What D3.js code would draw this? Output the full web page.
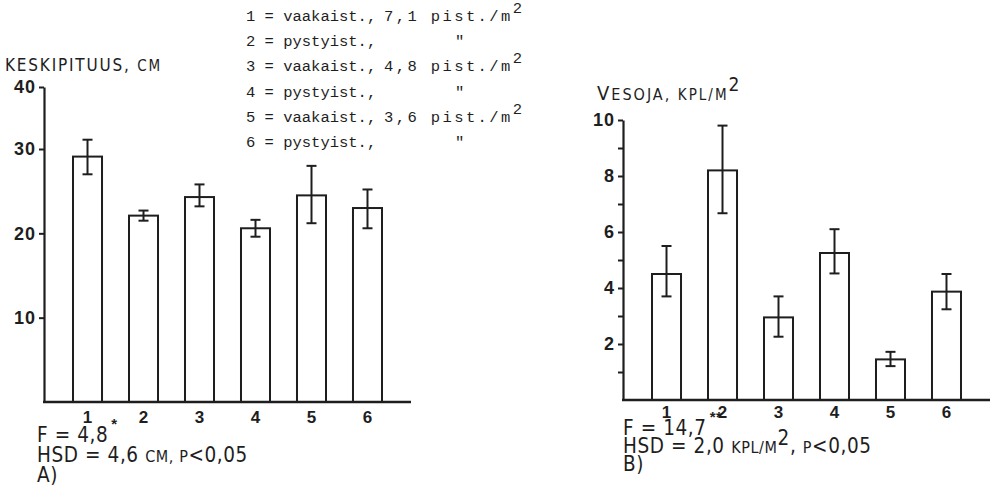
<!DOCTYPE html>
<html>
<head>
<meta charset="utf-8">
<script src="https://cdn.jsdelivr.net/npm/d3@7"></script>
<style>
body { margin: 0; background: #fff; }
svg text { fill: #1e1e1e; }
.lab { font-family: "DejaVu Sans Condensed", "DejaVu Sans", sans-serif; font-stretch: condensed; }
.num { font-family: "Liberation Sans", Arial, sans-serif; font-weight: bold; }
.mono { font-family: "Liberation Mono", "Courier New", monospace; }
</style>
</head>
<body>
<div id="chart"></div>
<script>
// Groups on the x-axis of both panels.
var groups = ['1', '2', '3', '4', '5', '6'];

// Panel A: keskipituus, cm (mean and error bar ends).
var lengthMean = [29.1, 22.1, 24.3, 20.6, 24.5, 23.0];
var lengthHigh = [31.5, 22.7, 25.8, 21.6, 28.0, 25.2];
var lengthLow  = [27.0, 21.5, 23.2, 19.6, 21.2, 20.6];
var lengthTicks = [10, 20, 30, 40];

// Panel B: vesoja, kpl/m2.
var shootMean = [4.5, 8.2, 2.95, 5.25, 1.45, 3.87];
var shootHigh = [5.5, 9.8, 3.7, 6.1, 1.72, 4.5];
var shootLow  = [3.7, 6.67, 2.26, 4.52, 1.21, 3.24];
var shootTicks = [1, 2, 3, 4, 5, 6, 7, 8, 9, 10];
var shootLabels = [2, 4, 6, 8, 10];

// Legend rows.
var legendType = ['vaakaist.,', 'pystyist.,', 'vaakaist.,', 'pystyist.,', 'vaakaist.,', 'pystyist.,'];
var legendDensity = ['7,1', '"', '4,8', '"', '3,6', '"'];

var ink = '#1e1e1e';

var svg = d3.select('#chart')
    .append('svg')
        .attr('width', 994)
        .attr('height', 488);

// Draw one bar panel with its axes and error bars.
function drawPanel(p) {
    var g = svg.append('g');

    var x = d3.scaleBand()
        .domain(groups)
        .range([p.x0, p.x1])
        .paddingInner(0.482)
        .paddingOuter(0.518);

    // y-axis
    var yAxisCall = d3.axisLeft(p.y)
        .tickValues(p.ticks)
        .tickSize(5)
        .tickSizeOuter(0)
        .tickPadding(3)
        .tickFormat(p.format);

    var ya = g.append('g')
        .attr('transform', 'translate(' + p.x0 + ', 0)')
        .call(yAxisCall);
    ya.select('.domain').attr('stroke', ink).attr('stroke-width', 2.2);
    ya.selectAll('.tick line').attr('stroke', ink).attr('stroke-width', 2);
    ya.selectAll('.tick text')
        .attr('class', 'num')
        .attr('font-size', '18px')
        .attr('letter-spacing', '1px')
        .attr('fill', ink);

    // bars
    g.selectAll('rect')
        .data(p.mean)
        .enter().append('rect')
            .attr('x', function(d, i){ return x(groups[i]); })
            .attr('y', function(d){ return p.y(d); })
            .attr('width', x.bandwidth())
            .attr('height', function(d){ return p.y(0) - p.y(d); })
            .attr('fill', '#fff')
            .attr('stroke', ink)
            .attr('stroke-width', 2);

    // baseline
    g.append('line')
        .attr('x1', p.x0 - 1).attr('x2', p.x1)
        .attr('y1', p.y(0)).attr('y2', p.y(0))
        .attr('stroke', ink)
        .attr('stroke-width', 2.4);

    // error bars
    var eb = g.selectAll('.err')
        .data(p.mean)
        .enter().append('g')
            .attr('transform', function(d, i){ return 'translate(' + (x(groups[i]) + x.bandwidth() / 2) + ', 0)'; })
            .attr('stroke', ink)
            .attr('stroke-width', 2);
    eb.append('line')
        .attr('y1', function(d, i){ return p.y(p.high[i]); })
        .attr('y2', function(d, i){ return p.y(p.low[i]); });
    eb.append('line')
        .attr('x1', -5).attr('x2', 5)
        .attr('y1', function(d, i){ return p.y(p.high[i]); })
        .attr('y2', function(d, i){ return p.y(p.high[i]); });
    eb.append('line')
        .attr('x1', -5).attr('x2', 5)
        .attr('y1', function(d, i){ return p.y(p.low[i]); })
        .attr('y2', function(d, i){ return p.y(p.low[i]); });

    // group numbers
    g.selectAll('.grp')
        .data(groups)
        .enter().append('text')
            .attr('class', 'num')
            .attr('x', function(d){ return x(d) + x.bandwidth() / 2; })
            .attr('y', p.y(0) + p.labelDy)
            .attr('text-anchor', 'middle')
            .attr('font-size', '17px')
            .text(function(d){ return d; });

    return g;
}

// Panel A
drawPanel({
    x0: 44, x1: 411,
    y: d3.scaleLinear().domain([0, 30, 40]).range([402, 149, 87]),
    mean: lengthMean, high: lengthHigh, low: lengthLow,
    ticks: lengthTicks,
    format: function(d){ return d; },
    labelDy: 21
});

// Panel B
drawPanel({
    x0: 623, x1: 990,
    y: d3.scaleLinear().domain([0, 10]).range([400, 120]),
    mean: shootMean, high: shootHigh, low: shootLow,
    ticks: shootTicks,
    format: function(d){ return shootLabels.indexOf(d) >= 0 ? d : ''; },
    labelDy: 18
});

// Axis titles
var t1 = svg.append('text').attr('class', 'lab').attr('x', 5).attr('y', 71)
    .attr('letter-spacing', '1.8px');
t1.append('tspan').attr('font-size', '17px').text('KESKIPITUUS, ');
t1.append('tspan').attr('font-size', '15px').text('CM');

var t2 = svg.append('text').attr('class', 'lab').attr('x', 597).attr('y', 100)
    .attr('letter-spacing', '2px');
t2.append('tspan').attr('font-size', '20px').text('V');
t2.append('tspan').attr('font-size', '16px').text('ESOJA, ');
t2.append('tspan').attr('font-size', '15px').text('KPL/M');
t2.append('tspan').attr('font-size', '19px').attr('dy', -9).text('2');

// Legend
var leg = svg.append('g').attr('class', 'mono').attr('font-size', '15.5px');
legendType.forEach(function(t, i){
    var yy = 21 + i * 25.2;
    leg.append('text').attr('x', 246).attr('y', yy)
        .text((i + 1) + ' = ' + t);
    if (legendDensity[i] === '"') {
        leg.append('text').attr('x', 455).attr('y', yy).text('"');
    } else {
        var lt = leg.append('text').attr('x', 384).attr('y', yy).attr('letter-spacing', '2.4px');
        lt.append('tspan').text(legendDensity[i] + ' pist./m');
        lt.append('tspan').attr('dy', -8).attr('letter-spacing', '0px').text('2');
    }
});

// Statistics under panel A
var sa = svg.append('g').attr('class', 'lab').attr('font-size', '20.5px').attr('letter-spacing', '0.6px');
var fa = sa.append('text').attr('x', 37).attr('y', 442);
fa.append('tspan').text('F = 4,8');
fa.append('tspan').attr('class', 'num').attr('font-size', '15px').attr('dx', 3).attr('dy', -13).text('*');
var ha = sa.append('text').attr('x', 37).attr('y', 462);
ha.append('tspan').text('HSD = 4,6 ');
ha.append('tspan').attr('font-size', '16px').text('CM, P');
ha.append('tspan').text('<0,05');
sa.append('text').attr('x', 37).attr('y', 482).text('A)');

// Statistics under panel B
var sb = svg.append('g').attr('class', 'lab').attr('font-size', '20.5px').attr('letter-spacing', '0.6px');
var fb = sb.append('text').attr('x', 623).attr('y', 435);
fb.append('tspan').text('F = 14,7');
fb.append('tspan').attr('class', 'num').attr('font-size', '15px').attr('dx', 3).attr('dy', -13).text('**');
var hb = sb.append('text').attr('x', 623).attr('y', 453);
hb.append('tspan').text('HSD = 2,0 ');
hb.append('tspan').attr('font-size', '16px').text('KPL/M');
hb.append('tspan').attr('dy', -8).text('2');
hb.append('tspan').attr('dy', 8).text(', ');
hb.append('tspan').attr('font-size', '16px').text('P');
hb.append('tspan').text('<0,05');
sb.append('text').attr('x', 623).attr('y', 471).text('B)');
</script>
</body>
</html>
